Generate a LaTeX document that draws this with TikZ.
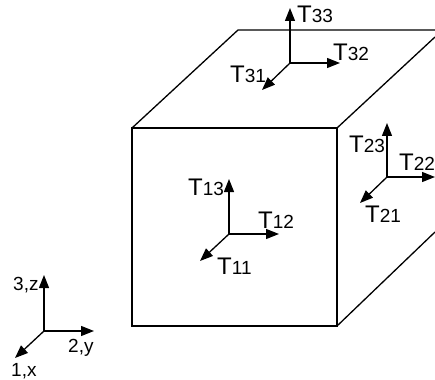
\documentclass[tikz,border=0pt]{standalone}
\usepackage{fontspec}
\setmainfont{Liberation Sans}
\usetikzlibrary{arrows.meta}

\newcommand{\stresslabel}[1]{{\fontsize{24}{24}\selectfont T}{\fontsize{19}{19}\selectfont #1}}

\begin{document}
\begin{tikzpicture}[x=1pt,y=-1pt,
			edge/.style={line width=1.3pt},
			axis/.style={line width=1.3pt,-{Triangle[length=13pt,width=10pt]}},
			every node/.style={inner sep=0pt,anchor=base west},
			small/.style={font=\fontsize{19}{19}\selectfont}]
			
			\useasboundingbox (0,0) rectangle (435,379);
			
			\coordinate(fronttl) at (132,128);
			\coordinate(fronttr) at (337,128);
			\coordinate(frontbl) at (132,326);
			\coordinate(frontbr) at (337,326);
			\coordinate(backtl) at (238,30);
			\coordinate(backtr) at (435,30);
			\coordinate(sideup) at (435,37);
			\coordinate(sidedown) at (435,232);
			
			\draw[edge](fronttl)--(fronttr)--(frontbr)--(frontbl)--cycle;
			
			\draw[edge](fronttl)--(backtl)--(backtr);
			
			\draw[edge](fronttr)--(sideup);
			
			\draw[edge](frontbr)--(sidedown);
			
			\coordinate(top) at (290,63);
			\coordinate(topz) at (290,8);
			\coordinate(topy) at (340,63);
			\coordinate(topx) at (262,90);
			
			\draw[axis](top)--(topz);
			
			\draw[axis](top)--(topy);
			
			\draw[axis](top)--(topx);
			
			\coordinate(side) at (387,177);
			\coordinate(sidez) at (387,123);
			\coordinate(sidey) at (435,177);
			\coordinate(sidex) at (360,203);
			
			\draw[axis](side)--(sidez);
			
			\draw[axis](side)--(sidey);
			
			\draw[axis](side)--(sidex);
			
			\coordinate(front) at (229,234);
			\coordinate(frontz) at (229,179);
			\coordinate(fronty) at (279,234);
			\coordinate(frontx) at (200,261);
			
			\draw[axis](front)--(frontz);
			
			\draw[axis](front)--(fronty);
			
			\draw[axis](front)--(frontx);
			
			\coordinate(ref) at (44,331);
			\coordinate(refz) at (44,275);
			\coordinate(refy) at (94,331);
			\coordinate(refx) at (15,358);
			
			\draw[axis](ref)--(refz);
			
			\draw[axis](ref)--(refy);
			
			\draw[axis](ref)--(refx);
			
			\node(t33) at (297,23){\stresslabel{33}};
			\node(t32) at (333,61){\stresslabel{32}};
			\node(t31) at (230,83){\stresslabel{31}};
			\node(t23) at (349,153){\stresslabel{23}};
			\node(t22) at (399,171){\stresslabel{22}};
			\node(t21) at (365,222){\stresslabel{21}};
			\node(t13) at (188,195){\stresslabel{13}};
			\node(t12) at (258,228){\stresslabel{12}};
			\node(t11) at (217,274){\stresslabel{11}};
			
			\node(labelz)[small] at (13,290){3,z};
			\node(labely)[small] at (68,352){2,y};
			\node(labelx)[small] at (11,376){1,x};
			
		\end{tikzpicture}
\end{document}
